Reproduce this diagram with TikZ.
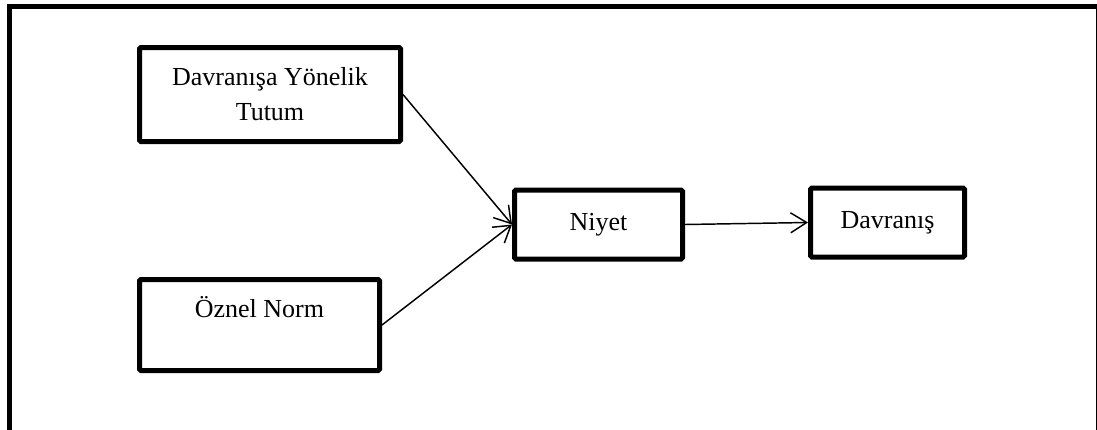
\documentclass[tikz,border=0pt]{standalone}
\usepackage{fontspec}
\setmainfont{Liberation Serif}
\usetikzlibrary{arrows.meta}

\begin{document}
\begin{tikzpicture}[x=0.75pt, y=-0.75pt,
	font=\fontsize{19.5}{26.25}\selectfont,
	kutu/.style={draw=black, line width=3.75pt, rounded corners=1pt, align=center, inner sep=0pt},
	ok/.style={line width=1.1pt, -{Straight Barb[length=12pt, width=15pt, line width=1.1pt]}}]
	% Sayfa sinirlari
	\useasboundingbox (0,0) rectangle (1097,429);
	\clip (0,0) rectangle (1097,429);
	\draw[line width=3.75pt] (9.5,440) -- (9.5,6.5) -- (1098,6.5) -- (1098,440);
	
	% Kutular
	\node[kutu, minimum width=195.75pt, minimum height=70.5pt] (tutum) at (270,94.5) {Davranışa Yönelik\\Tutum};
	\node[kutu, minimum width=180pt, minimum height=68.25pt] (norm) at (259.5,325) {Öznel Norm\\[-7pt]\strut};
	\node[kutu, minimum width=126pt, minimum height=51.75pt] (niyet) at (598.5,224.5) {Niyet};
	\node[kutu, minimum width=115.5pt, minimum height=51.75pt] (davranis) at (887.5,222.5) {Davranış};
	
	% Oklar
	\draw[ok] (tutum.east) -- (niyet.west);
	\draw[ok] (norm.east) -- (niyet.west);
	\draw[ok] (niyet.east) -- (davranis.west);
\end{tikzpicture}
\end{document}
